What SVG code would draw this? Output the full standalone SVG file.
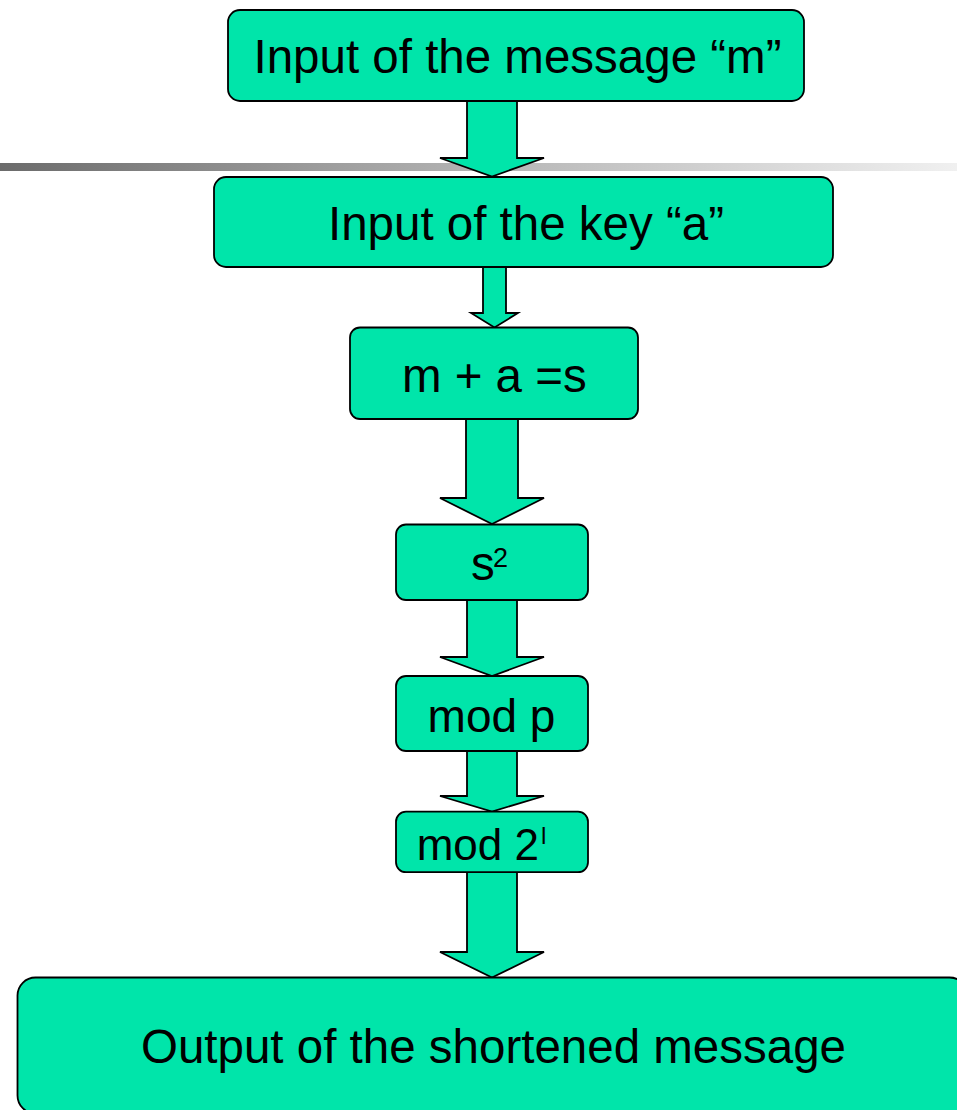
<svg xmlns="http://www.w3.org/2000/svg" width="957" height="1110" viewBox="0 0 957 1110">
  <defs>
    <linearGradient id="barGrad" x1="0" y1="0" x2="1" y2="0">
      <stop offset="0" stop-color="#6b6b6b"/>
      <stop offset="0.5" stop-color="#b4b4b4"/>
      <stop offset="1" stop-color="#f0f0f0"/>
    </linearGradient>
  </defs>
  <style>
    .box { fill: #00E5AA; stroke: #000; stroke-width: 1.8; }
    .arrow { fill: #00E5AA; stroke: #000; stroke-width: 1.8; stroke-linejoin: miter; }
    .lbl { font-family: "Liberation Sans", Arial, sans-serif; fill: #000; font-size: 47.5px; }
  </style>

  <!-- horizontal title rule -->
  <rect x="0" y="163" width="957" height="8" fill="url(#barGrad)"/>

  <!-- block arrows between steps -->
  <g id="connectors">
    <polygon class="arrow" points="467,101 517,101 517,158 544,158 492,176.5 440,158 467,158"/>
    <polygon class="arrow" points="483,267 506,267 506,313 518,313 494.5,327.5 471,313 483,313"/>
    <polygon class="arrow" points="466,419 518,419 518,498 544,498 492,524 440,498 466,498"/>
    <polygon class="arrow" points="467,600 517,600 517,657 544,657 492,676 440,657 467,657"/>
    <polygon class="arrow" points="467,751 517,751 517,796 544,796 492,811.5 440,796 467,796"/>
    <polygon class="arrow" points="467,872 517,872 517,952 544,952 492,977.5 440,952 467,952"/>
  </g>

  <g id="input-message">
    <rect class="box" x="228" y="10" width="576" height="91" rx="12"/>
    <text class="lbl" x="517.5" y="73" text-anchor="middle">Input of the message “m”</text>
  </g>

  <g id="input-key">
    <rect class="box" x="214" y="177" width="619" height="90" rx="12"/>
    <text class="lbl" x="526" y="240" text-anchor="middle">Input of the key “a”</text>
  </g>

  <g id="sum">
    <rect class="box" x="350" y="327.5" width="288" height="91.5" rx="10"/>
    <text class="lbl" x="494.3" y="391.7" text-anchor="middle">m + a =s</text>
  </g>

  <g id="square">
    <rect class="box" x="396" y="524.5" width="192" height="75.5" rx="10"/>
    <text class="lbl" x="471" y="580">s<tspan x="493" y="567" style="font-size:27px">2</tspan></text>
  </g>

  <g id="mod-p">
    <rect class="box" x="396" y="676" width="192" height="75" rx="10"/>
    <text class="lbl" x="491.5" y="731.7" text-anchor="middle" style="font-size:46px">mod p</text>
  </g>

  <g id="mod-2l">
    <rect class="box" x="396" y="811.7" width="192" height="60.5" rx="10"/>
    <text class="lbl" x="416.7" y="860" style="font-size:44px">mod 2<tspan x="541" y="844" style="font-size:24px">l</tspan></text>
  </g>

  <g id="output">
    <rect class="box" x="17.5" y="977.5" width="950" height="136" rx="18"/>
    <text class="lbl" x="493.5" y="1063" text-anchor="middle">Output of the shortened message</text>
  </g>
</svg>
